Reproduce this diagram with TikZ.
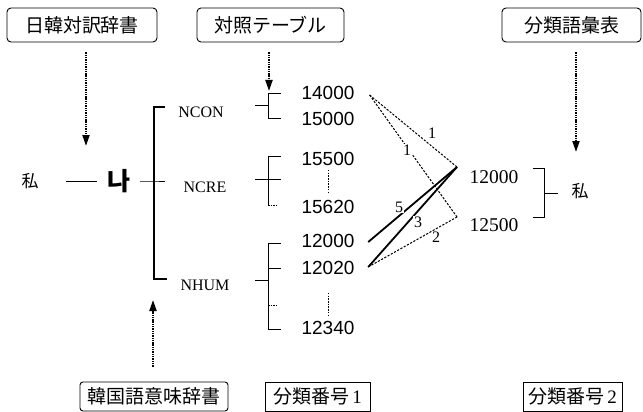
\documentclass[tikz,border=0pt]{standalone}
\usepackage{fontspec}
\setmainfont{Liberation Serif}
\newfontfamily\jp{Noto Sans CJK JP}
\newfontfamily\kr{Noto Sans CJK KR}
\newfontfamily\sansnum{Liberation Sans}
\usetikzlibrary{arrows.meta,calc}
\begin{document}
\begin{tikzpicture}[x=1pt,y=-1pt,
  box/.style={draw, line width=0.9pt, rounded corners=4pt, inner sep=0pt,
    font=\jp\fontsize{19}{19}\selectfont},
  sbox/.style={draw, line width=0.9pt, inner sep=0pt,
    font=\jp\fontsize{19}{19}\selectfont},
  num/.style={inner sep=0pt, font=\sansnum\fontsize{19}{19}\selectfont},
  rnum/.style={inner sep=0pt, font=\rmfamily\fontsize{19.5}{19.5}\selectfont},
  cat/.style={inner sep=0pt, font=\rmfamily\fontsize{16}{16}\selectfont},
  lbl/.style={inner sep=0.6pt, fill=white, font=\rmfamily\fontsize{16}{16}\selectfont},
  kanji/.style={inner sep=0pt, font=\jp\fontsize{17}{17}\selectfont},
  brk/.style={line width=0.9pt},
  dotv/.style={line width=1pt, dash pattern=on 1.5pt off 1.2pt},
  dashline/.style={line width=1pt, dash pattern=on 2.2pt off 1.5pt},
  heavy/.style={line width=1.8pt},
  dotarrow/.style={line width=2pt, dash pattern=on 1.4pt off 0.9pt,
    -{Triangle[length=11pt,width=7pt]}}]
\useasboundingbox (0,0) rectangle (643,412);

% top boxes
\node[box, minimum width=150pt, minimum height=34pt] (b1) at (82,25) {日韓対訳辞書};
\node[box, minimum width=147pt, minimum height=34pt] (b2) at (270.5,25) {対照テーブル};
\node[box, minimum width=139pt, minimum height=34pt] (b3) at (571.5,25) {分類語彙表};

% bottom boxes
\node[box, rounded corners=3pt, minimum width=148pt, minimum height=29pt] (b4) at (154,396.5) {韓国語意味辞書};
\node[sbox, minimum width=105pt, minimum height=29pt] (b5) at (317.5,396.5) {分類番号\,{\rmfamily 1}};
\node[sbox, minimum width=99pt, minimum height=29pt] (b6) at (572.5,396.5) {分類番号\,{\rmfamily 2}};

% arrows
\coordinate (t1) at (86,146);
\coordinate (t2) at (269,91);
\coordinate (t3) at (576,152);
\coordinate (t4) at (153,300);
\draw[dotarrow, shorten <=10pt] (b1.south -| t1) -- (t1);
\draw[dotarrow, shorten <=10pt] (b2.south -| t2) -- (t2);
\draw[dotarrow, shorten <=10pt] (b3.south -| t3) -- (t3);
\draw[dotarrow, shorten <=15pt] (b4.north -| t4) -- (t4);

% left part
\node[kanji] (w1) at (30,181) {私};
\node[inner sep=0pt, font=\kr\bfseries\fontsize{25}{25}\selectfont] (na) at (119,181) {나};
\draw[brk] ([xshift=27pt]w1.east) -- ([xshift=-10pt]na.west);

% main bracket
\coordinate (mt) at (154,107);
\coordinate (mm) at (154,181);
\coordinate (mb) at (154,279);
\draw[brk, line width=1.2pt] (mt) ++(11,0) -- (mt) -- (mb) -- ++(13,0);
\draw[brk] ([xshift=9pt]na.east) -- (mm) -- ++(11,0);

\node[cat] (ncon) at (201,112) {NCON};
\node[cat] (ncre) at (205,187) {NCRE};
\node[cat] (nhum) at (205,285) {NHUM};

% sub brackets
\coordinate (c1t) at (268,93);
\coordinate (c1b) at (268,118);
\draw[brk] (c1t) ++(13,0) -- (c1t) -- (c1b) -- ++(13,0);
\draw[brk] (c1t) ++(0,12) -- ++(-13,0);

\coordinate (c2t) at (268,156);
\coordinate (c2b) at (268,205);
\draw[brk] (c2t) ++(13,0) -- (c2t) -- (c2b);
\draw[dotv] (c2b) -- ++(9,0);
\draw[brk] (c2t) ++(-13,23) -- ++(26,0);

\coordinate (c3t) at (268,243);
\coordinate (c3b) at (268,329);
\draw[brk] (c3t) ++(13,0) -- (c3t) -- (c3b) -- ++(13,0);
\draw[brk] (c3t) ++(0,25) -- ++(13,0);
\draw[brk] (c3t) ++(0,37) -- ++(-13,0);
\draw[dotv] (c3t) ++(0,62) -- ++(9,0);

% numbers (column 1)
\node[num] (n1) at (328,93) {14000};
\node[num] (n2) at (328,119) {15000};
\node[num] (n3) at (328,159) {15500};
\node[num] (n4) at (328,207) {15620};
\node[num] (n5) at (328,241) {12000};
\node[num] (n6) at (328,268) {12020};
\node[num] (n7) at (328,328) {12340};
\draw[dotv, shorten <=4pt, shorten >=7pt] (n3.south) -- (n4.north);
\draw[dotv, shorten <=18pt, shorten >=4pt] (n6.south) -- (n7.north);

% numbers (column 2)
\node[rnum] (r1) at (494,177) {12000};
\node[rnum] (r2) at (494,225) {12500};
\coordinate (rt) at (544,168);
\coordinate (rb) at (544,217);
\draw[brk] (rt) ++(-11,0) -- (rt) -- (rb) -- ++(-11,0);
\draw[brk] (rt) ++(0,25) -- ++(14,0);
\node[kanji] (w2) at (580,191) {私};

% correspondence lines
\coordinate (pA) at (457,167);
\coordinate (pB) at (457,217);
\coordinate (s1) at ($(n1.east)+(15,2)$);
\coordinate (s5) at ($(n5.east)+(13.6,1)$);
\coordinate (s6) at ($(n6.east)+(13.6,-1)$);
\draw[dashline] (s1) -- (pA);
\draw[dashline] (s1) -- (pB);
\draw[dashline] (s6) -- (pB);
\draw[heavy] (s5) -- (pA);
\draw[heavy] (s6) -- (pA);

\node[lbl, fill=none] (l1) at (432,133) {1};
\node[lbl] (l2) at (407,150) {1};
\node[lbl] (l5) at (399,207) {5};
\node[lbl] (l3) at (418,222) {3};
\node[lbl, fill=none] (l4) at (436,237) {2};
\end{tikzpicture}
\end{document}
